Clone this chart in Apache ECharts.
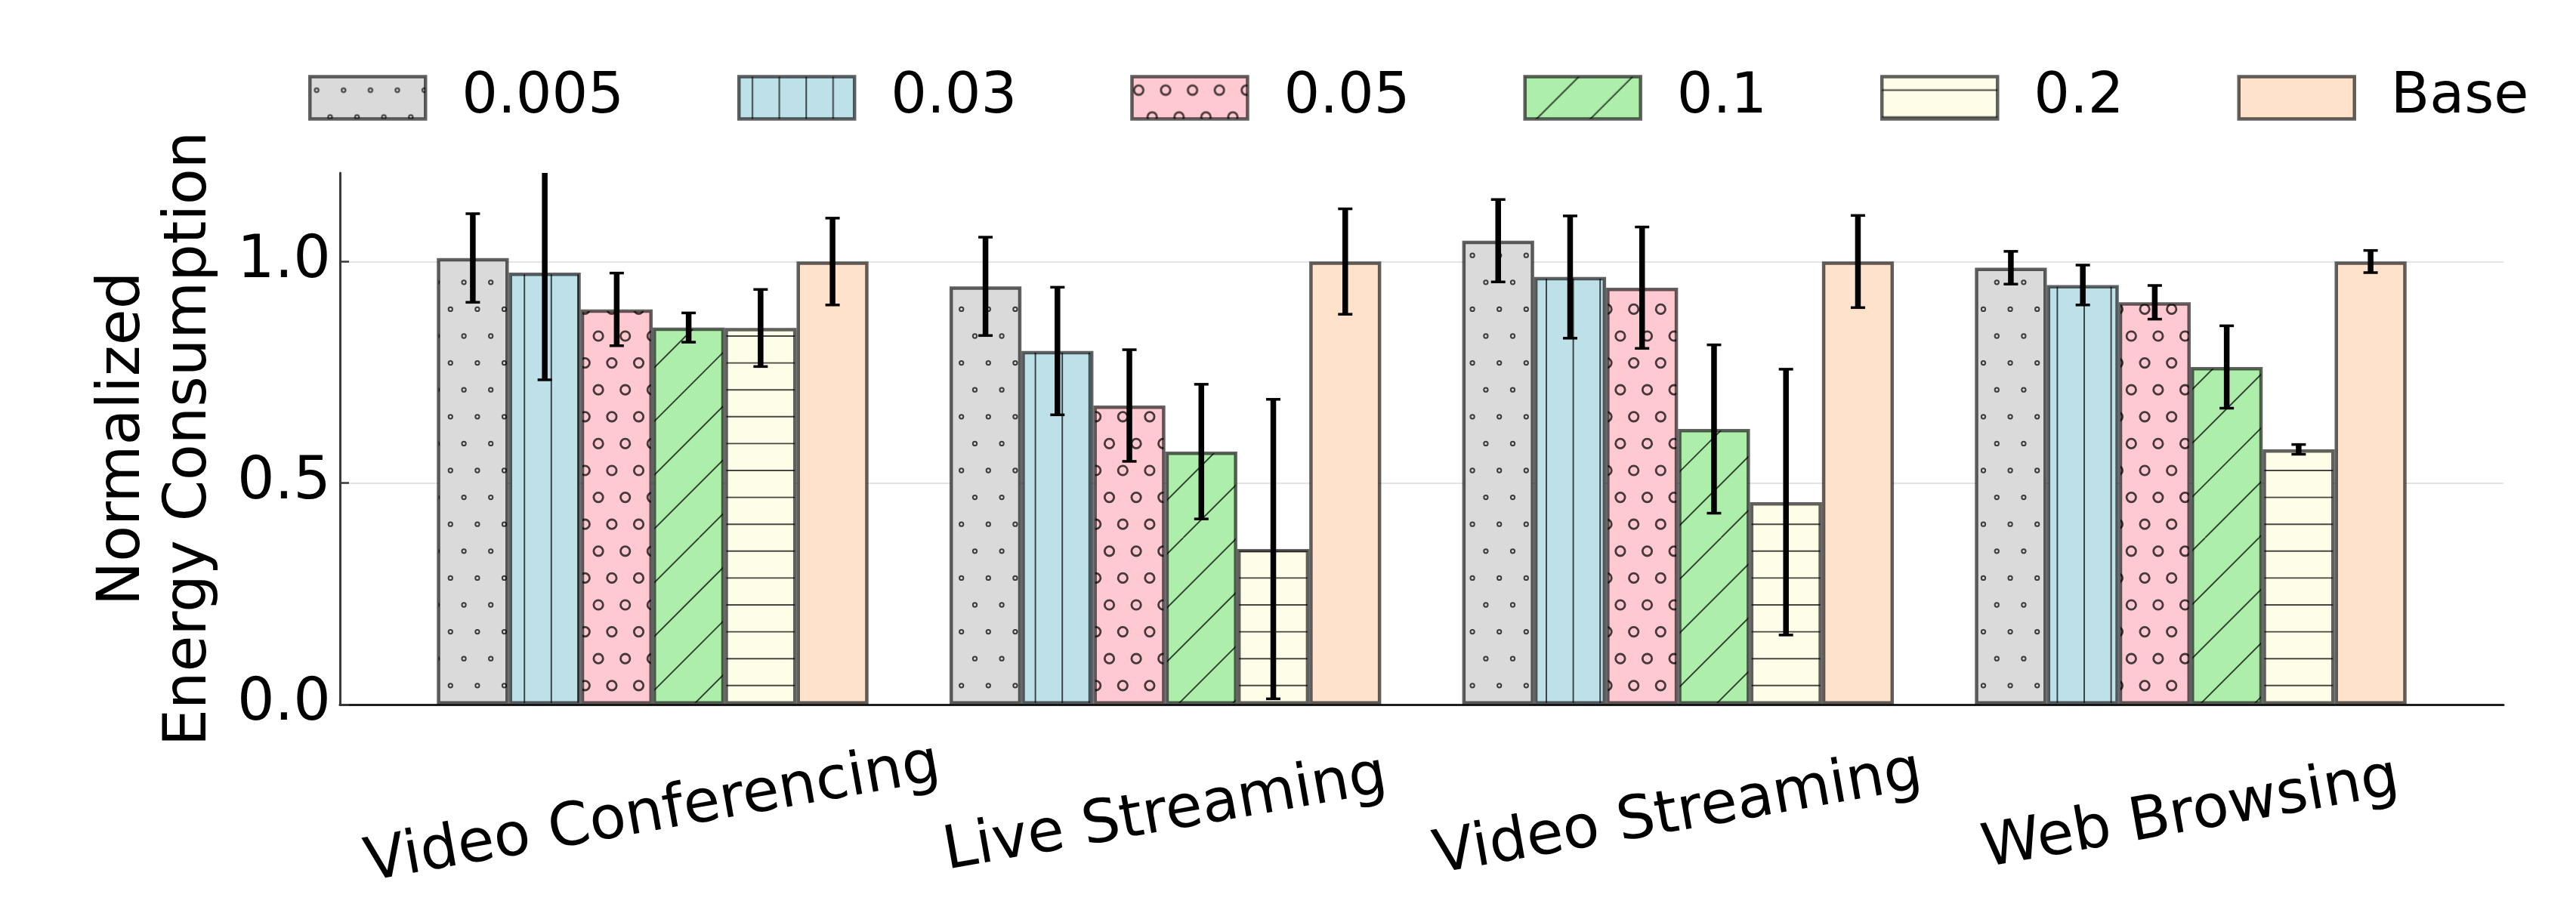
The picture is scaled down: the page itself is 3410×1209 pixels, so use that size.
<!DOCTYPE html>
<html>
<head>
<meta charset="utf-8">
<script src="https://cdn.jsdelivr.net/npm/echarts@6/dist/echarts.min.js"></script>
<style>
  html, body { margin: 0; padding: 0; background: #ffffff; }
  #chart { width: 3410px; height: 1209px; }
</style>
</head>
<body>
<div id="chart"></div>
<script>
// Workload categories along the x axis
const categories = ['Video Conferencing', 'Live Streaming', 'Video Streaming', 'Web Browsing'];
const seriesNames = ['0.005', '0.03', '0.05', '0.1', '0.2', 'Base'];

// Mean normalized energy per workload, one array per setting
const values_0005 = [1.008, 0.944, 1.047, 0.986];
const values_003  = [0.975, 0.798, 0.965, 0.947];
const values_005  = [0.892, 0.675, 0.941, 0.908];
const values_01   = [0.851, 0.571, 0.622, 0.762];
const values_02   = [0.850, 0.351, 0.457, 0.576];
const values_base = [1.000, 1.000, 1.000, 1.000];

// Error bar half-lengths (same order)
const err_0005 = [0.100, 0.111, 0.093, 0.037];
const err_003  = [0.242, 0.144, 0.138, 0.045];
const err_005  = [0.082, 0.126, 0.137, 0.038];
const err_01   = [0.033, 0.152, 0.190, 0.093];
const err_02   = [0.087, 0.338, 0.300, 0.011];
const err_base = [0.098, 0.119, 0.104, 0.025];

// Y axis tick positions
const yTicks = [0, 0.5, 1.0];

const allValues = [values_0005, values_003, values_005, values_01, values_02, values_base];
const allErrors = [err_0005, err_003, err_005, err_01, err_02, err_base];

const FONT = 'DejaVu Sans';
const Y_MAX = 1.2;
const X_MIN = -0.61, X_MAX = 3.61;
const CAT_GAP = 0.158;                 // fraction of each category slot left empty
const EDGE = 'rgba(0,0,0,0.62)';       // bar outlines (overlap darker where bars touch)
const HATCH = 'rgba(0,0,0,0.72)';

// Hatched fills, tiled over the canvas
const CELL = 35.6, TILE = 356;
function makeFill(fill, hatch) {
  if (!hatch) return fill;
  const c = document.createElement('canvas');
  c.width = TILE; c.height = TILE;
  const g = c.getContext('2d');
  g.fillStyle = fill;
  g.fillRect(0, 0, TILE, TILE);
  g.strokeStyle = HATCH;
  const n = Math.round(TILE / CELL);
  if (hatch === 'o' || hatch === 'O') {
    const r = hatch === 'o' ? 2.65 : 6.2;
    g.lineWidth = hatch === 'o' ? 2.0 : 2.8;
    for (let row = 0; row < n; row++) {
      for (let col = -1; col <= n; col++) {
        const x = col * CELL + (row % 2 ? CELL / 2 : 0) + CELL / 4;
        const y = row * CELL + CELL / 2;
        g.beginPath(); g.arc(x, y, r, 0, Math.PI * 2); g.stroke();
      }
    }
  } else if (hatch === '|') {
    g.lineWidth = 1.9;
    for (let i = 0; i < n; i++) {
      const x = i * CELL + CELL / 2;
      g.beginPath(); g.moveTo(x, 0); g.lineTo(x, TILE); g.stroke();
    }
  } else if (hatch === '-') {
    g.lineWidth = 1.9;
    for (let i = 0; i < n; i++) {
      const y = i * CELL + CELL / 2;
      g.beginPath(); g.moveTo(0, y); g.lineTo(TILE, y); g.stroke();
    }
  } else if (hatch === '/') {
    g.lineWidth = 1.9;
    const period = CELL * 2;
    for (let k = -6; k <= 6; k++) {
      const x0 = k * period;
      g.beginPath(); g.moveTo(x0, TILE); g.lineTo(x0 + TILE, 0); g.stroke();
    }
  }
  return { image: c, repeat: 'repeat' };
}

const fills = [
  makeFill('#dadada', 'o'),
  makeFill('#bde0e9', '|'),
  makeFill('#ffc9d1', 'O'),
  makeFill('#aeeeab', '/'),
  makeFill('#fdfde8', '-'),
  makeFill('#ffe2cc', null)
];

const barSeries = seriesNames.map((name, s) => ({
  name: name,
  type: 'bar',
  data: allValues[s].map((v, i) => [i, v]),
  barGap: '0%',
  barCategoryGap: (CAT_GAP * 100) + '%',
  itemStyle: { color: fills[s], borderColor: EDGE, borderWidth: 4.5 },
  emphasis: { disabled: true },
  z: 2
}));

const errData = [];
allValues.forEach((vals, s) => vals.forEach((v, i) => errData.push([i, s, v, allErrors[s][i]])));

const errorSeries = {
  type: 'custom',
  name: 'errors',
  data: errData,
  z: 5,
  silent: true,
  renderItem(params, api) {
    const cat = api.value(0), s = api.value(1), v = api.value(2), e = api.value(3);
    const unit = api.size([1, 0])[0];
    const bw = unit * (1 - CAT_GAP) / seriesNames.length;
    const cx = api.coord([cat, 0])[0] + (s - (seriesNames.length - 1) / 2) * bw;
    const hiV = v + e, loV = Math.max(v - e, 0);
    const yTop = api.coord([cat, Math.min(hiV, Y_MAX)])[1];
    const yBot = api.coord([cat, loV])[1];
    const capHalf = 9.5;
    const children = [{
      type: 'line',
      shape: { x1: cx, y1: yTop, x2: cx, y2: yBot },
      style: { stroke: '#000', lineWidth: 7.5 }
    }, {
      type: 'line',
      shape: { x1: cx - capHalf, y1: yBot, x2: cx + capHalf, y2: yBot },
      style: { stroke: '#000', lineWidth: 3.5 }
    }];
    if (hiV <= Y_MAX) {
      children.push({
        type: 'line',
        shape: { x1: cx - capHalf, y1: yTop, x2: cx + capHalf, y2: yTop },
        style: { stroke: '#000', lineWidth: 3.5 }
      });
    }
    return { type: 'group', children };
  }
};

const chart = echarts.init(document.getElementById('chart'), null, { renderer: 'canvas' });
chart.setOption({
  animation: false,
  backgroundColor: '#ffffff',
  textStyle: { fontFamily: FONT },
  legend: {
    data: seriesNames,
    top: 87,
    left: 403,
    icon: 'rect',
    itemWidth: 153,
    itemHeight: 56,
    itemGap: 150,
    itemStyle: { borderColor: 'rgba(0,0,0,0.62)', borderWidth: 4.5 },
    textStyle: { fontSize: 75, fontFamily: FONT, color: '#000', padding: [0, 0, 0, 43] },
    selectedMode: false
  },
  grid: { left: 450, right: 96, top: 229, bottom: 276, containLabel: false, outerBoundsMode: 'none' },
  xAxis: {
    type: 'value',
    min: X_MIN,
    max: X_MAX,
    axisLine: { show: true, onZero: false, lineStyle: { color: '#1e1e1e', width: 3 } },
    axisTick: { show: false },
    splitLine: { show: false },
    axisLabel: {
      customValues: [0, 1, 2, 3],
      formatter: v => categories[Math.round(v)] || '',
      rotate: 10,
      align: 'center',
      verticalAlign: 'middle',
      margin: 146,
      fontSize: 79,
      fontFamily: FONT,
      color: '#000'
    }
  },
  yAxis: {
    type: 'value',
    min: 0,
    max: Y_MAX,
    interval: 0.5,
    name: 'Normalized\nEnergy Consumption',
    nameLocation: 'middle',
    nameGap: 154,
    nameTextStyle: { fontSize: 78, fontFamily: FONT, color: '#000', lineHeight: 88 },
    axisLine: { show: true, onZero: false, lineStyle: { color: '#3a3a3a', width: 3 } },
    axisTick: { show: true, inside: true, length: 12, customValues: yTicks, lineStyle: { color: '#3a3a3a', width: 2.5 } },
    splitLine: { show: true, lineStyle: { color: '#e4e4e4', width: 2 } },
    axisLabel: {
      customValues: yTicks,
      formatter: v => v.toFixed(1),
      margin: 12,
      fontSize: 78,
      fontFamily: FONT,
      color: '#000'
    }
  },
  series: barSeries.concat([errorSeries])
});
</script>
</body>
</html>
